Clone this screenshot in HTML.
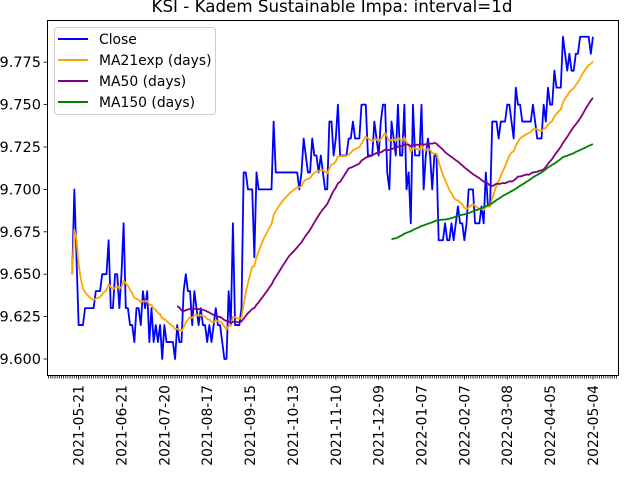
<!DOCTYPE html>
<html><head><meta charset="utf-8"><style>
html,body{margin:0;padding:0;background:#fff;}
svg{display:block;font-family:"DejaVu Sans","Liberation Sans",sans-serif;}
</style></head><body>
<svg id="chart" width="640" height="480" viewBox="0 0 640 480" xmlns="http://www.w3.org/2000/svg">
<rect x="0" y="0" width="640" height="480" fill="#fff"/>
<text x="332" y="12" text-anchor="middle" font-size="16.7">KSI - Kadem Sustainable Impa: interval=1d</text>
<g id="plot"></g>
<rect x="47.5" y="20.5" width="571" height="355" fill="none" stroke="#000" stroke-width="1"/>
<g id="legend">
<rect x="54.5" y="27.5" width="161" height="87" rx="3" fill="#fff" fill-opacity="0.8" stroke="#ccc"/>
<line x1="58" y1="39" x2="88" y2="39" stroke="#0000ff" stroke-width="2"/>
<text x="99" y="44" font-size="13.9">Close</text>
<line x1="58" y1="60" x2="88" y2="60" stroke="#ffa500" stroke-width="2"/>
<text x="99" y="65" font-size="13.9">MA21exp (days)</text>
<line x1="58" y1="81" x2="88" y2="81" stroke="#800080" stroke-width="2"/>
<text x="99" y="86" font-size="13.9">MA50 (days)</text>
<line x1="58" y1="102" x2="88" y2="102" stroke="#008000" stroke-width="2"/>
<text x="99" y="107" font-size="13.9">MA150 (days)</text>
</g>
</svg>
<script>
const closeValues = [
9.65,9.70,9.66,9.62,9.62,9.62,9.63,9.63,9.63,9.63,
9.63,9.64,9.64,9.64,9.65,9.65,9.65,9.67,9.63,9.63,
9.65,9.65,9.63,9.65,9.68,9.63,9.63,9.62,9.62,9.61,
9.63,9.63,9.62,9.64,9.63,9.64,9.61,9.63,9.61,9.62,
9.61,9.62,9.60,9.62,9.61,9.61,9.61,9.61,9.60,9.62,
9.61,9.61,9.64,9.65,9.64,9.64,9.62,9.64,9.63,9.62,
9.63,9.62,9.62,9.61,9.62,9.61,9.62,9.63,9.62,9.62,
9.61,9.60,9.60,9.64,9.62,9.68,9.62,9.62,9.62,9.63,
9.71,9.71,9.70,9.70,9.70,9.66,9.71,9.70,9.70,9.70,
9.70,9.70,9.70,9.70,9.74,9.71,9.71,9.71,9.71,9.71,
9.71,9.71,9.71,9.71,9.71,9.71,9.70,9.71,9.73,9.72,
9.71,9.71,9.73,9.72,9.72,9.71,9.72,9.71,9.70,9.70,
9.74,9.74,9.72,9.73,9.75,9.72,9.72,9.72,9.72,9.73,
9.73,9.74,9.73,9.73,9.73,9.75,9.75,9.75,9.72,9.72,
9.72,9.74,9.73,9.72,9.74,9.75,9.75,9.71,9.70,9.74,
9.73,9.72,9.75,9.72,9.72,9.75,9.70,9.71,9.68,9.75,
9.72,9.72,9.72,9.75,9.70,9.72,9.73,9.72,9.70,9.72,
9.72,9.67,9.67,9.67,9.68,9.67,9.67,9.68,9.67,9.68,
9.69,9.68,9.68,9.67,9.68,9.70,9.70,9.70,9.68,9.68,
9.68,9.69,9.68,9.71,9.69,9.69,9.74,9.74,9.74,9.73,
9.74,9.74,9.74,9.75,9.75,9.74,9.73,9.76,9.75,9.75,
9.74,9.74,9.74,9.74,9.74,9.75,9.74,9.73,9.73,9.73,
9.75,9.74,9.76,9.75,9.75,9.77,9.76,9.76,9.76,9.79,
9.78,9.77,9.78,9.77,9.77,9.78,9.78,9.79,9.79,9.79,
9.79,9.79,9.78,9.79
];
const tickIndices = [3,23,43,63,83,103,123,143,163,183,203,223,243];
const tickLabels = ["2021-05-21","2021-06-21","2021-07-20","2021-08-17","2021-09-15","2021-10-13","2021-11-10","2021-12-09","2022-01-07","2022-02-07","2022-03-08","2022-04-05","2022-05-04"];
const yTicks = [9.600,9.625,9.650,9.675,9.700,9.725,9.750,9.775];

const NS = "http://www.w3.org/2000/svg";
const plot = document.getElementById('plot');
const xs = i => 72.2 + 2.143 * i;
const ys = v => 359 - (v - 9.6) / 0.025 * 42.4;

function ewm(arr, span){
  const a = 2/(span+1); let num=0, den=0; const out=[];
  for(let i=0;i<arr.length;i++){ num = arr[i] + (1-a)*num; den = 1 + (1-a)*den; out.push(num/den); }
  return out;
}
function rolling(arr, n){
  const out=[];
  for(let i=0;i<arr.length;i++){
    if(i<n-1){out.push(null);continue;}
    let s=0; for(let j=i-n+1;j<=i;j++) s+=arr[j]; out.push(s/n);
  }
  return out;
}
const ma21 = ewm(closeValues,21);
const ma50 = rolling(closeValues,50);
const ma150 = rolling(closeValues,150);

function addLine(vals, color, name){
  let d=''; let started=false;
  vals.forEach((v,i)=>{ if(v===null) return; d += (started?'L':'M') + xs(i).toFixed(2)+','+ys(v).toFixed(2); started=true; });
  const p = document.createElementNS(NS,'path');
  p.setAttribute('d',d); p.setAttribute('fill','none'); p.setAttribute('stroke',color);
  p.setAttribute('stroke-width','1.8'); p.setAttribute('stroke-linejoin','round');
  
  
  plot.appendChild(p);
}
addLine(closeValues,'#0000ff','close-line');
addLine(ma21,'#ffa500','ma21exp-line');
addLine(ma50,'#800080','ma50-line');
addLine(ma150,'#008000','ma150-line');

for(let i=-11;i<=254;i++){
  const x = xs(i); if(x<47.5||x>618.5) continue;
  const t = document.createElementNS(NS,'line');
  t.setAttribute('x1',x); t.setAttribute('x2',x); t.setAttribute('y1',375.5); t.setAttribute('y2',378.5);
  t.setAttribute('stroke','#000'); t.setAttribute('stroke-width','0.8');
  
  
  plot.appendChild(t);
}
tickIndices.forEach((idx,k)=>{
  const x = xs(idx);
  const t = document.createElementNS(NS,'line');
  t.setAttribute('x1',x); t.setAttribute('x2',x); t.setAttribute('y1',375.5); t.setAttribute('y2',379.5);
  t.setAttribute('stroke','#000'); t.setAttribute('stroke-width','0.8');
  
  
  plot.appendChild(t);
  const tx = document.createElementNS(NS,'text');
  tx.setAttribute('transform','translate('+(x+5)+',385) rotate(-90)');
  tx.setAttribute('text-anchor','end'); tx.setAttribute('font-size','13.9');
  tx.textContent = tickLabels[k];
  
  
  plot.appendChild(tx);
});
yTicks.forEach(v=>{
  const y = ys(v);
  const t = document.createElementNS(NS,'line');
  t.setAttribute('x1',43.5); t.setAttribute('x2',47.5); t.setAttribute('y1',y); t.setAttribute('y2',y);
  t.setAttribute('stroke','#000'); t.setAttribute('stroke-width','0.8');
  
  
  plot.appendChild(t);
  const tx = document.createElementNS(NS,'text');
  tx.setAttribute('x',41); tx.setAttribute('y',y+5);
  tx.setAttribute('text-anchor','end'); tx.setAttribute('font-size','14.5');
  tx.textContent = v.toFixed(3);
  
  
  plot.appendChild(tx);
});
</script>
</body></html>
